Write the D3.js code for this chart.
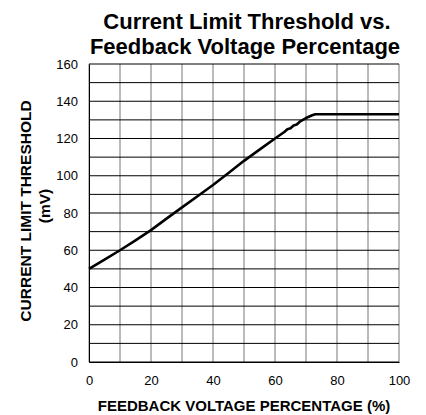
<!DOCTYPE html>
<html>
<head>
<meta charset="utf-8">
<script src="https://cdn.jsdelivr.net/npm/d3@7"></script>
<style>
  body { margin: 0; background: #fff; }
  text { font-family: "Liberation Sans", Arial, sans-serif; }
</style>
</head>
<body>
<div id="chart"></div>
<script>
const feedbackPct = [0, 5, 10, 15, 20, 25, 30, 35, 40, 45, 50, 55, 60, 63, 64, 65, 66, 67, 68, 70, 72, 73, 100];
const thresholdMv = [50, 55, 60, 65.3, 70.8, 77, 83, 89, 95, 101.5, 108, 114, 120, 123.5, 125, 125.5, 127, 127.5, 129, 131, 132.5, 133, 133];
const xTicks = [0, 20, 40, 60, 80, 100];
const yTicks = [0, 20, 40, 60, 80, 100, 120, 140, 160];

const width = 426, height = 415;
const margin = { top: 64, right: 27, bottom: 53, left: 89 };
const w = width - margin.left - margin.right;
const h = height - margin.top - margin.bottom;

const svg = d3.select("#chart").append("svg")
  .attr("width", width)
  .attr("height", height);

const g = svg.append("g")
  .attr("transform", `translate(${margin.left},${margin.top})`);

const x = d3.scaleLinear().domain([0, 100]).range([0, w]);
const y = d3.scaleLinear().domain([0, 160]).range([h, 0]);

// grid
g.selectAll(".vgrid")
  .data(d3.range(0, 101, 10))
  .join("line")
  .attr("x1", d => x(d)).attr("x2", d => x(d))
  .attr("y1", 0).attr("y2", h)
  .attr("stroke", "#777")
  .attr("stroke-width", 1);

g.selectAll(".hgrid")
  .data(d3.range(0, 161, 10))
  .join("line")
  .attr("x1", 0).attr("x2", w)
  .attr("y1", d => y(d)).attr("y2", d => y(d))
  .attr("stroke", "#000")
  .attr("stroke-width", 1);

// axes
const xAxis = g.append("g")
  .attr("transform", `translate(0,${h})`)
  .call(d3.axisBottom(x).tickValues(xTicks).tickSize(0).tickPadding(14));
xAxis.select(".domain").attr("stroke", "#000");
xAxis.selectAll("text").attr("font-size", "13px").attr("fill", "#000");

const yAxis = g.append("g")
  .call(d3.axisLeft(y).tickValues(yTicks).tickSize(0).tickPadding(11));
yAxis.select(".domain").attr("stroke", "#000");
yAxis.selectAll("text").attr("font-size", "13px").attr("fill", "#000");

// curve
const line = d3.line()
  .x((d, i) => x(feedbackPct[i]))
  .y(d => y(d));

g.append("path")
  .datum(thresholdMv)
  .attr("fill", "none")
  .attr("stroke", "#000")
  .attr("stroke-width", 2.6)
  .attr("stroke-linejoin", "round")
  .attr("d", line);

// titles
svg.append("text")
  .attr("x", 247).attr("y", 29)
  .attr("text-anchor", "middle")
  .attr("font-size", "22px").attr("font-weight", "bold")
  .text("Current Limit Threshold vs.");

svg.append("text")
  .attr("x", 245).attr("y", 54)
  .attr("text-anchor", "middle")
  .attr("font-size", "22px").attr("font-weight", "bold")
  .text("Feedback Voltage Percentage");

svg.append("text")
  .attr("x", 244).attr("y", 411)
  .attr("text-anchor", "middle")
  .attr("font-size", "15px").attr("font-weight", "bold")
  .text("FEEDBACK VOLTAGE PERCENTAGE (%)");

svg.append("text")
  .attr("transform", "translate(31,211) rotate(-90)")
  .attr("text-anchor", "middle")
  .attr("font-size", "15.5px").attr("font-weight", "bold")
  .text("CURRENT LIMIT THRESHOLD");

svg.append("text")
  .attr("transform", "translate(50,206) rotate(-90)")
  .attr("text-anchor", "middle")
  .attr("font-size", "15.5px").attr("font-weight", "bold")
  .text("(mV)");
</script>
</body>
</html>
